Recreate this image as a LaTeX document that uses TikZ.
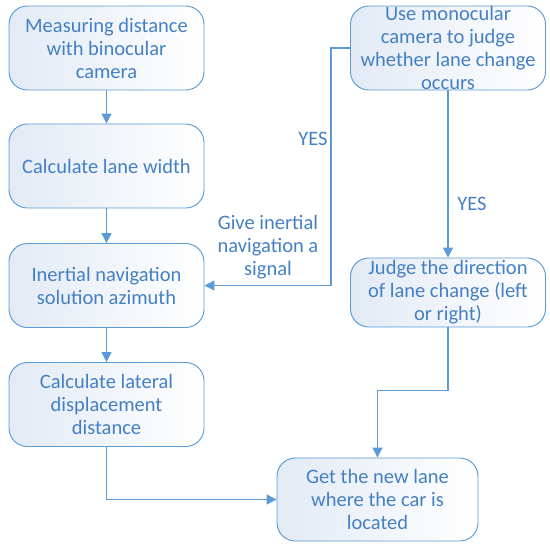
\documentclass[tikz,border=0pt]{standalone}
\usepackage{fontspec}
\setmainfont{Carlito}
\usetikzlibrary{arrows.meta}
\definecolor{lineblue}{HTML}{5B9BD5}
\definecolor{textblue}{HTML}{4580C4}
\definecolor{boxfill}{HTML}{E2EAF5}
\begin{document}
\begin{tikzpicture}[x=0.03cm, y=-0.03cm,
    box/.style={draw=lineblue, line width=0.8pt, rounded corners=0.55cm,
      left color=boxfill, right color=white, text=textblue, align=center,
      minimum width=5.85cm, minimum height=2.52cm, inner ysep=0pt,
      font=\fontsize{17.5}{19.6}\selectfont},
    lbl/.style={text=textblue, align=center, font=\fontsize{17.5}{19.6}\selectfont},
    arr/.style={draw=lineblue, line width=1.1pt, -{Triangle[length=0.3cm, width=0.3cm]}}]
  \useasboundingbox (0,0) rectangle (550,548);

  % Left column
  \node[box] (measure) at (106.5, 48) {Measuring distance\\with binocular\\camera};
  \node[box] (width) at (106.5, 166) {Calculate lane width};
  \node[box] (azimuth) at (106.5, 285.5) {Inertial navigation\\solution azimuth};
  \node[box] (lateral) at (106.5, 404.5) {Calculate lateral\\displacement\\distance};

  % Right column
  \node[box, inner ysep=-0.15cm] (mono) at (448, 48) {Use monocular\\camera to judge\\whether lane change\\occurs};
  \node[box, minimum height=2.07cm] (direction) at (448, 292.5) {Judge the direction\\of lane change (left\\or right)};

  % Result
  \node[box, minimum width=6.03cm, minimum height=2.49cm] (newlane) at (377.5, 499.5) {Get the new lane\\where the car is\\located};

  % Labels
  \node[lbl] (yesleft) at (313, 139) {YES};
  \node[lbl] (yesright) at (472, 204) {YES};
  \node[lbl] (signal) at (268, 247) {Give inertial\\navigation a\\signal};

  % Connectors
  \draw[arr] (measure) -- (width);
  \draw[arr] (width) -- (azimuth);
  \draw[arr] (azimuth) -- (lateral);
  \draw[arr] (lateral.south) |- (newlane.west);
  \draw[arr] (mono) -- (direction);
  \draw[arr] (mono.west) -- ++(-19, 0) |- (azimuth.east);
  \draw[arr] (direction.south) -- ++(0, 63) -| (newlane.north);
\end{tikzpicture}
\end{document}
